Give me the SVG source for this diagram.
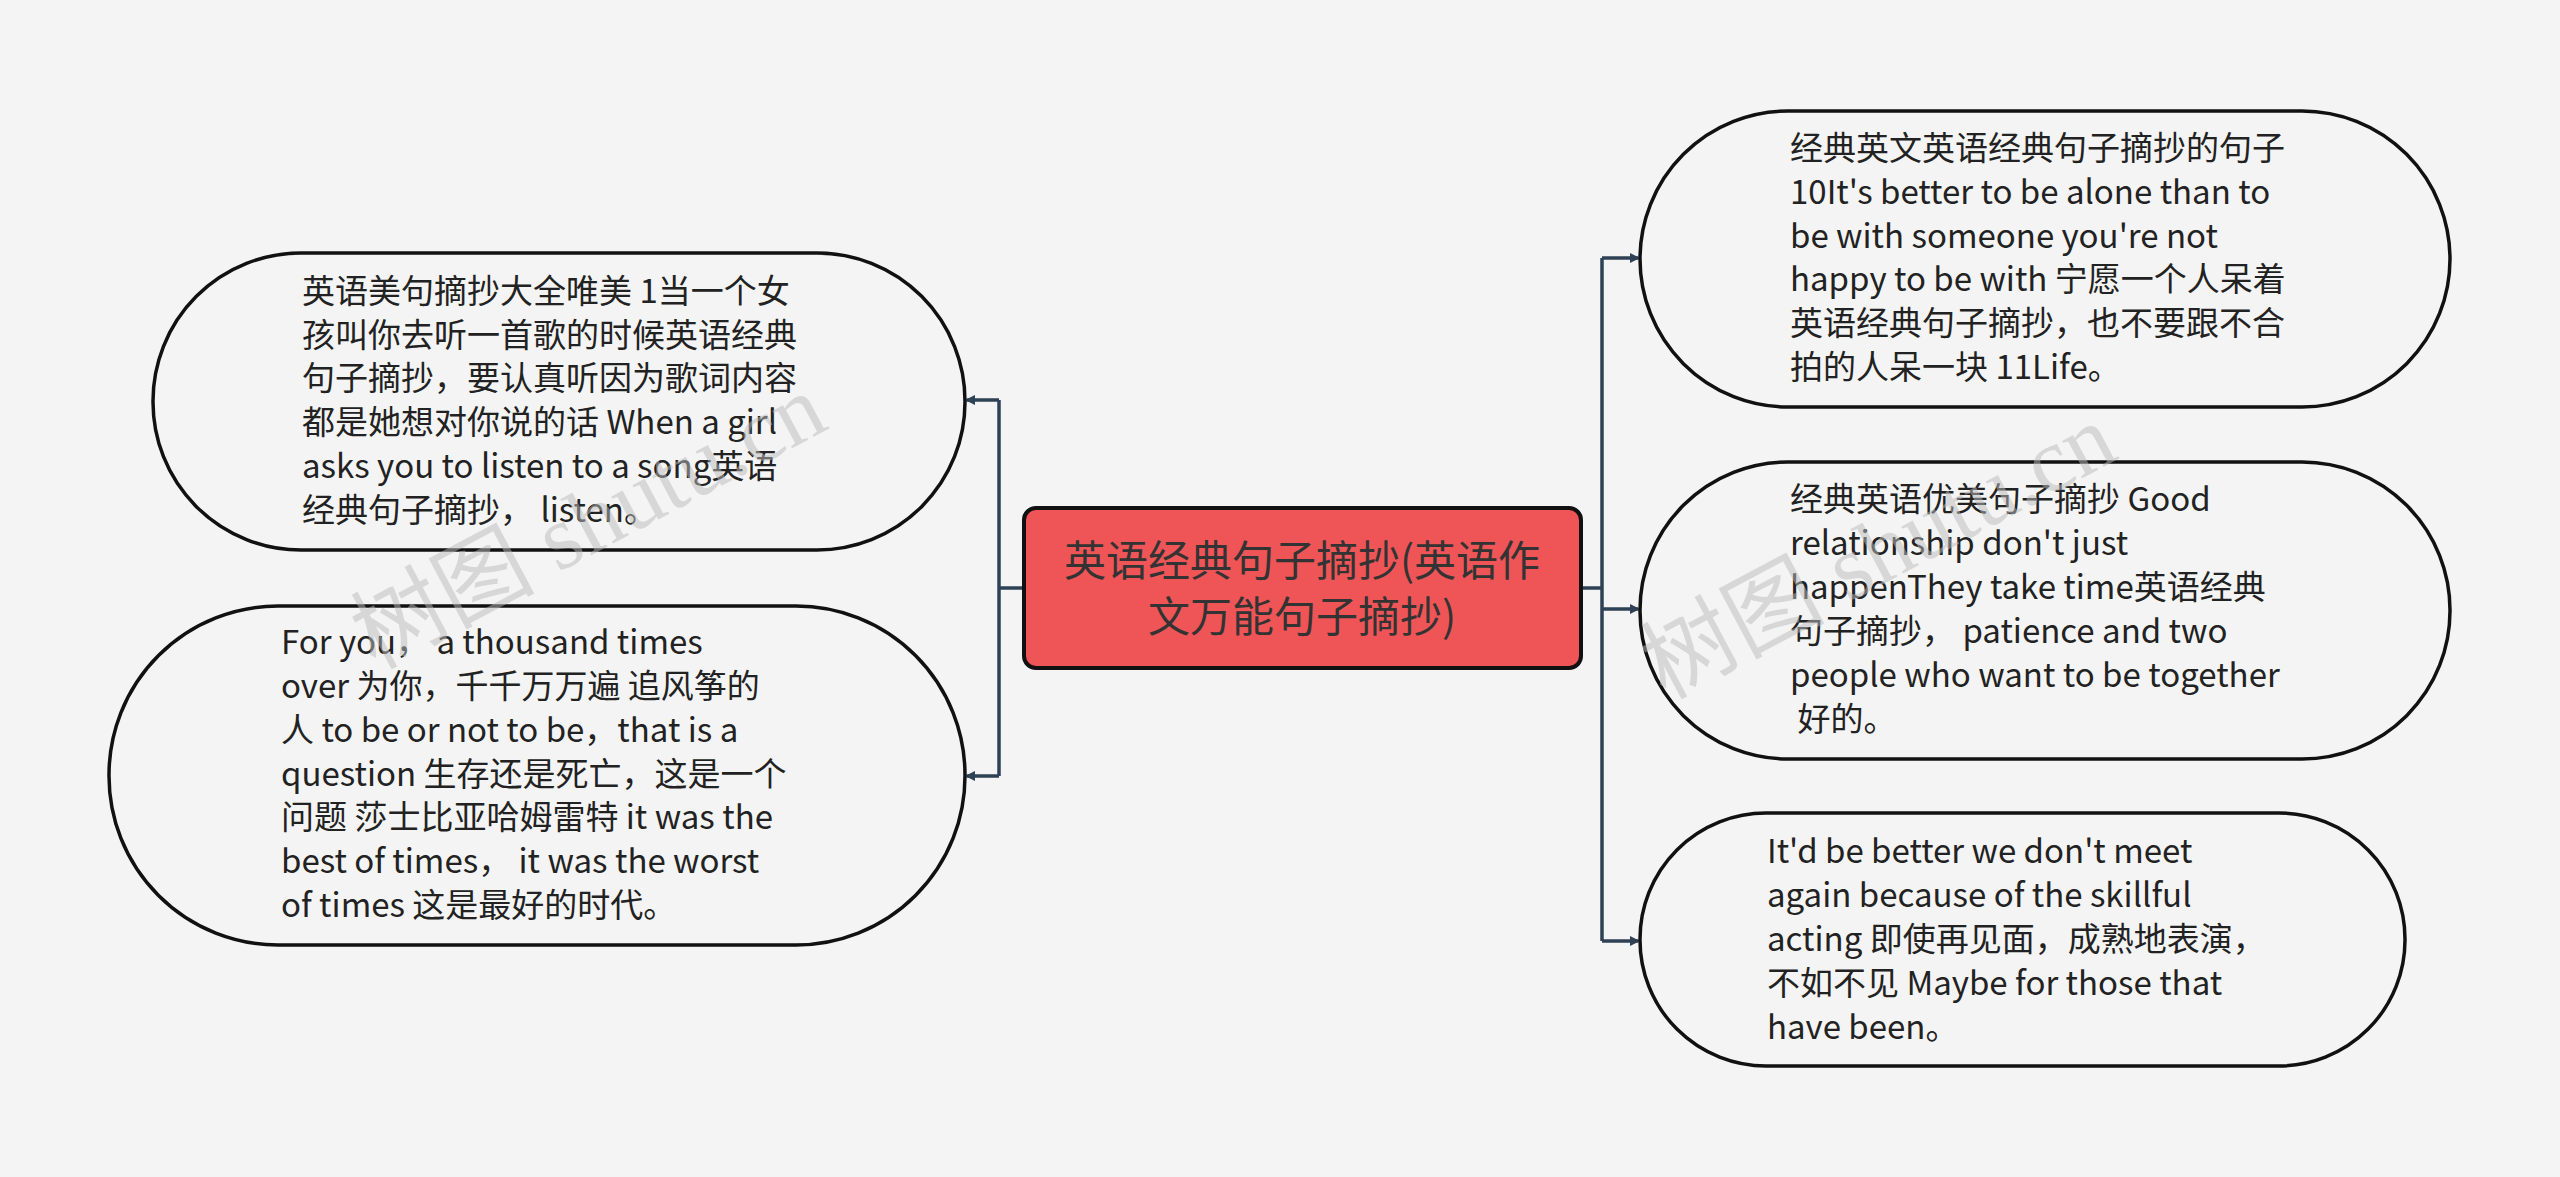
<svg xmlns="http://www.w3.org/2000/svg" width="2560" height="1177" viewBox="0 0 2560 1177">
<style>
.n{fill:#f4f4f4;stroke:#111;stroke-width:3.5}
.t{font-family:"Noto Sans CJK SC","Noto Sans",sans-serif;font-size:33px;fill:#222}
.c{fill:none;stroke:#2e4155;stroke-width:3.5}
.w{font-family:"Liberation Serif","Noto Sans CJK SC",serif;font-size:92px;fill:#bbb;opacity:0.5}
</style>
<defs><marker id="a" markerWidth="10" markerHeight="10" refX="8" refY="5" orient="auto" markerUnits="userSpaceOnUse"><path d="M0,0 L10,5 L0,10 z" fill="#2e4155"/></marker></defs>
<rect width="2560" height="1177" fill="#f4f4f4"/>
<g id="connectors">
<path class="c" d="M1581,588 H1602 M1602,258 V941"/>
<path class="c" d="M1602,258 H1638" marker-end="url(#a)"/>
<path class="c" d="M1602,609 H1638" marker-end="url(#a)"/>
<path class="c" d="M1602,941 H1638" marker-end="url(#a)"/>
<path class="c" d="M1024,588 H999 M999,400 V776"/>
<path class="c" d="M999,400 H967" marker-end="url(#a)"/>
<path class="c" d="M999,776 H967" marker-end="url(#a)"/>
</g>
<g id="center">
<rect x="1024" y="508" width="557" height="160" rx="12" fill="#ef5557" stroke="#111" stroke-width="4"/>
<text font-family="'Noto Sans CJK SC',sans-serif" font-size="42" fill="#333" text-anchor="middle"><tspan x="1302" y="576">英语经典句子摘抄(英语作</tspan><tspan x="1302" y="632">文万能句子摘抄)</tspan></text>
</g>
<g id="left1">
<rect class="n" x="153" y="253" width="812" height="297" rx="148"/>
<text class="t"><tspan x="302" y="303">英语美句摘抄大全唯美 1当一个女</tspan><tspan x="302" y="347">孩叫你去听一首歌的时候英语经典</tspan><tspan x="302" y="390">句子摘抄，要认真听因为歌词内容</tspan><tspan x="302" y="434">都是她想对你说的话 When a girl</tspan><tspan x="302" y="478">asks you to listen to a song英语</tspan><tspan x="302" y="522">经典句子摘抄， listen。</tspan></text>
</g>
<g id="left2">
<rect class="n" x="109" y="606" width="856" height="339" rx="169"/>
<text class="t"><tspan x="281" y="654">For you， a thousand times</tspan><tspan x="281" y="698">over 为你，千千万万遍 追风筝的</tspan><tspan x="281" y="742">人 to be or not to be，that is a</tspan><tspan x="281" y="786">question 生存还是死亡，这是一个</tspan><tspan x="281" y="829">问题 莎士比亚哈姆雷特 it was the</tspan><tspan x="281" y="873">best of times， it was the worst</tspan><tspan x="281" y="917">of times 这是最好的时代。</tspan></text>
</g>
<g id="right1">
<rect class="n" x="1640" y="111" width="810" height="296" rx="148"/>
<text class="t"><tspan x="1790" y="160">经典英文英语经典句子摘抄的句子</tspan><tspan x="1790" y="204">10It's better to be alone than to</tspan><tspan x="1790" y="248">be with someone you're not</tspan><tspan x="1790" y="291">happy to be with 宁愿一个人呆着</tspan><tspan x="1790" y="335">英语经典句子摘抄，也不要跟不合</tspan><tspan x="1790" y="379">拍的人呆一块 11Life。</tspan></text>
</g>
<g id="right2">
<rect class="n" x="1640" y="462" width="810" height="297" rx="148"/>
<text class="t"><tspan x="1790" y="511">经典英语优美句子摘抄 Good</tspan><tspan x="1790" y="555">relationship don't just</tspan><tspan x="1790" y="599">happenThey take time英语经典</tspan><tspan x="1790" y="643">句子摘抄， patience and two</tspan><tspan x="1790" y="687">people who want to be together</tspan><tspan x="1790" y="731"> 好的。</tspan></text>
</g>
<text class="w" transform="translate(375,670) rotate(-28)">树图 shutu.cn</text>
<text class="w" transform="translate(1665,700) rotate(-28)">树图 shutu.cn</text>
<g id="right3">
<rect class="n" x="1640" y="813" width="765" height="253" rx="126"/>
<text class="t"><tspan x="1767" y="863">It'd be better we don't meet</tspan><tspan x="1767" y="907">again because of the skillful</tspan><tspan x="1767" y="951">acting 即使再见面，成熟地表演，</tspan><tspan x="1767" y="995">不如不见 Maybe for those that</tspan><tspan x="1767" y="1039">have been。</tspan></text>
</g>
</svg>
